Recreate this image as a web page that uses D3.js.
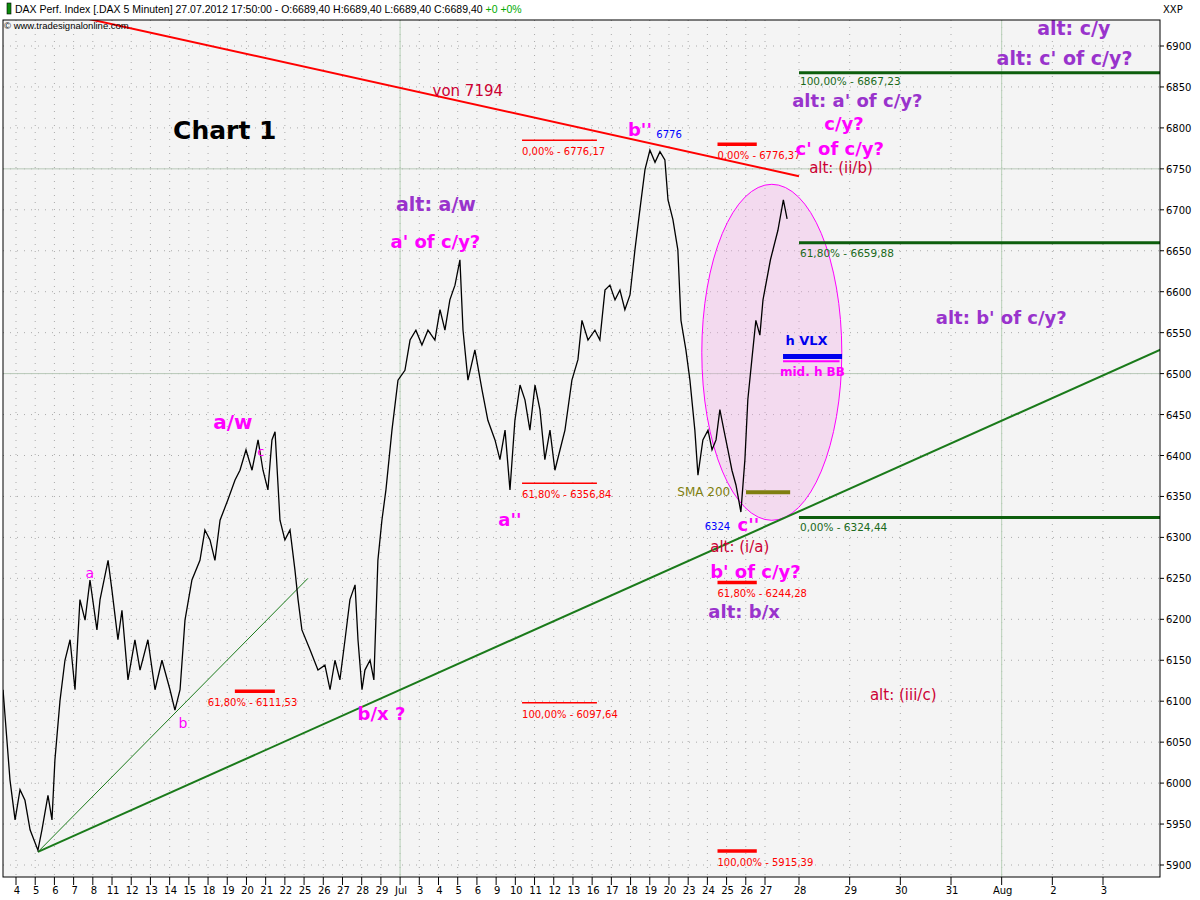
<!DOCTYPE html>
<html><head><meta charset="utf-8">
<script src="https://cdn.jsdelivr.net/npm/d3@7"></script>
<style>body{margin:0;background:#fff}svg{font-family:"DejaVu Sans",sans-serif}</style>
</head><body><svg id="c" width="1200" height="900"></svg>
<script>
const dayLabels = ['4','5','6','7','8','11','12','13','14','15','18','19','20','21','22','25','26','27','28','29','Jul','3','4','5','6','9','10','11','12','13','16','17','18','19','20','23','24','25','26','27','28','29','30','31','Aug','2','3'];
const yTicks = d3.range(5900, 6901, 50);

// price trace [t, value]; t in chart time units (Jun 4 open = 0, Jul 27 = 41, Jul 28 = 42, Aug 3 = 48)
const price = [[-0.71,6114],[-0.33,6004],[-0.05,5955],[0.22,5992],[0.49,5979],[0.77,5943],[1.2,5918],[1.42,5943],[1.75,5985],[1.97,5955],[2.13,6028],[2.41,6101],[2.68,6150],[2.96,6175],[3.23,6114],[3.5,6224],[3.78,6199],[4.05,6248],[4.43,6187],[4.6,6224],[5.04,6272],[5.25,6236],[5.58,6175],[5.8,6211],[6.13,6126],[6.51,6175],[6.79,6138],[7.22,6175],[7.61,6114],[7.99,6150],[8.43,6114],[8.7,6089],[8.98,6114],[9.25,6199],[9.63,6248],[10.07,6272],[10.34,6309],[10.62,6297],[10.89,6272],[11.17,6321],[11.6,6346],[11.99,6370],[12.26,6382],[12.59,6407],[12.92,6382],[13.25,6419],[13.52,6382],[13.79,6358],[14.01,6419],[14.18,6429],[14.45,6321],[14.72,6297],[15,6309],[15.27,6260],[15.44,6224],[15.65,6187],[16.09,6163],[16.53,6138],[16.91,6144],[17.19,6114],[17.46,6150],[17.73,6126],[18.01,6175],[18.28,6224],[18.56,6242],[18.72,6175],[18.94,6114],[19.1,6138],[19.38,6150],[19.59,6126],[19.81,6272],[20.03,6321],[20.25,6358],[20.58,6431],[20.91,6492],[21.29,6504],[21.57,6541],[21.89,6553],[22.22,6535],[22.55,6553],[22.93,6541],[23.21,6578],[23.48,6553],[23.75,6590],[24.03,6608],[24.3,6639],[24.47,6553],[24.74,6492],[25.12,6529],[25.51,6480],[25.83,6443],[26.22,6419],[26.49,6395],[26.77,6431],[27.04,6358],[27.31,6443],[27.59,6486],[27.86,6468],[28.13,6431],[28.41,6486],[28.68,6456],[28.95,6395],[29.23,6431],[29.5,6382],[29.78,6407],[30.05,6431],[30.43,6492],[30.76,6517],[30.98,6565],[31.31,6541],[31.69,6553],[31.96,6541],[32.24,6602],[32.51,6608],[32.79,6590],[33.06,6602],[33.33,6578],[33.61,6596],[33.88,6651],[34.15,6700],[34.43,6749],[34.7,6773],[34.98,6758],[35.25,6771],[35.52,6761],[35.69,6712],[35.96,6688],[36.23,6651],[36.4,6565],[36.67,6529],[36.89,6492],[37.16,6431],[37.33,6376],[37.6,6419],[37.88,6431],[38.1,6407],[38.32,6419],[38.53,6456],[38.75,6431],[38.97,6407],[39.19,6382],[39.41,6364],[39.68,6331],[39.9,6395],[40.06,6468],[40.28,6517],[40.5,6565],[40.72,6547],[40.89,6590],[41.16,6639],[41.38,6675],[41.54,6712],[41.65,6689]];

const trends = [
  {p:[[-1.5,6960],[42,6741]], c:'#ff0000', w:2},
  {p:[[1.2,5916],[49.2,6531]], c:'#1a7a1a', w:2},
  {p:[[1.2,5916],[15.98,6250]], c:'#1a7a1a', w:1}
];
const fibLevels = [{v:6867.23,t:'100,00% - 6867,23',dy:12},{v:6659.88,t:'61,80% - 6659,88',dy:14},{v:6324.44,t:'0,00% - 6324,44',dy:14}];
const redBars = [
  [27.7,31.8,6785,'0,00% - 6776,17',false,0],
  [38.4,40.55,6780,'0,00% - 6776,37',true,0],
  [27.7,31.8,6366,'61,80% - 6356,84',false,0],
  [11.98,14.17,6112,'61,80% - 6111,53',true,-27],
  [27.7,31.8,6098,'100,00% - 6097,64',false,0],
  [38.4,40.55,6245,'61,80% - 6244,28',true,0],
  [38.4,40.55,5917,'100,00% - 5915,39',true,0]
];
const labels = [
  ['Chart 1',8.6,6786,'#000',25,'bold'],
  ['von 7194',22.8,6839,'#cc0033',15,'normal'],
  ['a/w',10.8,6432,'#ff00ff',20,'bold'],
  ['c',13.2,6400,'#ff00ff',13,'normal'],
  ['a',3.8,6250,'#ff00ff',14,'normal'],
  ['b',8.9,6067,'#ff00ff',14,'normal'],
  ['b/x ?',18.7,6077,'#ff00ff',18,'bold'],
  ['a\'\'',26.4,6314,'#ff00ff',18,'bold'],
  ['b\'\'',33.5,6790,'#ff00ff',18,'bold'],
  ['c\'\'',39.5,6308,'#ff00ff',18,'bold'],
  ['alt: a/w',20.8,6699,'#9933cc',19,'bold'],
  ['a\' of c/y?',20.5,6653,'#ff00ff',18,'bold'],
  ['alt: (ii/b)',42.2,6745,'#cc0033',15,'normal'],
  ['alt: (i/a)',38.0,6282,'#cc0033',15,'normal'],
  ['b\' of c/y?',38.0,6250,'#ff00ff',18,'bold'],
  ['alt: b/x',37.9,6202,'#9933cc',18,'bold'],
  ['alt: (iii/c)',43.4,6102,'#cc0033',15,'normal'],
  ['alt: b\' of c/y?',44.7,6560,'#9933cc',18,'bold'],
  ['alt: c/y',46.7,6914,'#9933cc',19,'bold'],
  ['alt: c\' of c/y?',45.9,6877,'#9933cc',19,'bold'],
  ['alt: a\' of c/y?',41.8,6825,'#9933cc',18,'bold'],
  ['c/y?',42.5,6798,'#ff00ff',18,'bold'],
  ['c\' of c/y?',41.9,6767,'#ff00ff',18,'bold'],
  ['6776',35.05,6788,'#0000ff',10,'normal'],
  ['6324',37.7,6309,'#0000ff',10,'normal']
];

const svg = d3.select('#c');
const L = 3, R = 1160, T = 20, B = 877;
const x = d3.scaleLinear().domain([0, 41, 42, 48]).range([16, 765, 799, 1103]);
// axis: label index (trading days, then calendar days)
const xa = d3.scaleLinear().domain([0, 39, 40, 46]).range([16, 765, 799, 1103]);
const labelIdx = d3.range(dayLabels.length);
const y = d3.scaleLinear().domain([5900, 6900]).range([865, 46]);

svg.append('rect').attr('x', L).attr('y', T).attr('width', R - L).attr('height', B - T).attr('fill', '#f4f4f4');
svg.append('clipPath').attr('id', 'pc').append('rect').attr('x', L).attr('y', T).attr('width', R - L).attr('height', B - T);
const g = svg.append('g').attr('clip-path', 'url(#pc)');

g.selectAll('.gh').data(yTicks).join('line').attr('x1', L).attr('x2', R)
  .attr('y1', d => y(d)).attr('y2', d => y(d)).attr('stroke', '#aaa').attr('stroke-dasharray', '1,6');
g.selectAll('.gv').data(labelIdx).join('line').attr('y1', T).attr('y2', B)
  .attr('x1', d => xa(d)).attr('x2', d => xa(d)).attr('stroke', '#aaa').attr('stroke-dasharray', '1,6');
g.selectAll('.gs').data([6750, 6500]).join('line').attr('x1', L).attr('x2', R)
  .attr('y1', d => y(d)).attr('y2', d => y(d)).attr('stroke', '#b8c8b8');
g.selectAll('.gm').data([20, 44]).join('line').attr('y1', T).attr('y2', B)
  .attr('x1', d => xa(d)).attr('x2', d => xa(d)).attr('stroke', '#b8d0b8');

g.append('ellipse').attr('cx', x(41.2)).attr('cy', y(6526)).attr('rx', 70).attr('ry', 168)
  .attr('fill', 'rgba(240,170,230,0.35)').attr('stroke', '#ff00ff').attr('stroke-width', 1);

const line = d3.line().x(d => x(d[0])).y(d => y(d[1]));
g.selectAll('.tr').data(trends).join('path').attr('d', d => line(d.p)).attr('fill', 'none')
  .attr('stroke', d => d.c).attr('stroke-width', d => d.w);

g.selectAll('.fl').data(fibLevels).join('line').attr('x1', x(42)).attr('x2', R)
  .attr('y1', d => y(d.v)).attr('y2', d => y(d.v)).attr('stroke', '#0d5e0d').attr('stroke-width', 3);
g.selectAll('.ft').data(fibLevels).join('text').attr('x', x(42) + 1).attr('y', d => y(d.v) + d.dy)
  .attr('fill', '#1a6a1a').attr('font-size', 10.5).text(d => d.t);

g.selectAll('.rb').data(redBars).join('line').attr('x1', d => x(d[0])).attr('x2', d => x(d[1]))
  .attr('y1', d => y(d[2])).attr('y2', d => y(d[2])).attr('stroke', '#ff0000').attr('stroke-width', d => d[4] ? 3.5 : 1.5);
g.selectAll('.rt').data(redBars).join('text').attr('x', d => x(d[0]) + d[5])
  .attr('y', d => y(d[2]) + 15).attr('fill', '#ff0000').attr('font-size', 10).text(d => d[3]);

g.append('line').attr('x1', x(39.96)).attr('x2', x(41.74)).attr('y1', y(6355)).attr('y2', y(6355))
  .attr('stroke', '#7f7f10').attr('stroke-width', 4);
g.append('text').attr('x', x(36.2)).attr('y', y(6351)).attr('fill', '#7f7f10').attr('font-size', 12).text('SMA 200');
g.append('line').attr('x1', x(41.53)).attr('x2', x(42.85)).attr('y1', y(6521)).attr('y2', y(6521))
  .attr('stroke', '#0000ee').attr('stroke-width', 5);
g.append('line').attr('x1', x(41.53)).attr('x2', x(42.8)).attr('y1', y(6515)).attr('y2', y(6515))
  .attr('stroke', '#ff00ff').attr('stroke-width', 2);
g.append('text').attr('x', x(41.6)).attr('y', y(6535)).attr('fill', '#0000ee').attr('font-size', 13).attr('font-weight', 'bold').text('h VLX');
g.append('text').attr('x', x(41.44)).attr('y', y(6497)).attr('fill', '#ff00ff').attr('font-size', 12).attr('font-weight', 'bold').text('mid. h BB');

g.append('path').attr('d', line(price)).attr('fill', 'none').attr('stroke', '#000').attr('stroke-width', 1.3);

g.selectAll('.lb').data(labels).join('text').attr('x', d => x(d[1])).attr('y', d => y(d[2]))
  .attr('fill', d => d[3]).attr('font-size', d => d[4]).attr('font-weight', d => d[5]).text(d => d[0]);

svg.append('rect').attr('x', L).attr('y', T).attr('width', R - L).attr('height', B - T).attr('fill', 'none').attr('stroke', '#000');

const ya = svg.append('g');
ya.selectAll('line').data(yTicks).join('line').attr('x1', R).attr('x2', R + 4).attr('y1', d => y(d)).attr('y2', d => y(d)).attr('stroke', '#000');
ya.selectAll('text').data(yTicks).join('text').attr('x', R + 6).attr('y', d => y(d) + 4).attr('font-size', 10).text(d => d);
svg.append('text').attr('x', 1163).attr('y', 13).attr('font-size', 10).text('XXP');

const xg = svg.append('g');
xg.selectAll('line').data(labelIdx).join('line').attr('x1', d => xa(d)).attr('x2', d => xa(d)).attr('y1', B).attr('y2', B + 8).attr('stroke', '#000');
xg.selectAll('text').data(labelIdx).join('text').attr('x', d => xa(d) + 1).attr('y', B + 17).attr('text-anchor', 'middle')
  .attr('font-size', 10).text(d => dayLabels[d]);

svg.append('rect').attr('x', 0).attr('y', 0).attr('width', 487).attr('height', 18).attr('fill', '#fff');
svg.append('rect').attr('x', 7).attr('y', 3).attr('width', 4).attr('height', 11).attr('fill', '#0a8a0a').attr('stroke', '#000').attr('stroke-width', 0.6);
const hd = svg.append('text').attr('x', 15).attr('y', 13).attr('font-size', 10.5).attr('font-family', 'Liberation Sans, sans-serif');
hd.append('tspan').text('DAX Perf. Index [.DAX  5 Minuten] 27.07.2012 17:50:00 - O:6689,40 H:6689,40 L:6689,40 C:6689,40 ');
hd.append('tspan').attr('fill', '#00aa00').text('+0 +0%');
svg.append('text').attr('x', 4).attr('y', 29).attr('font-size', 9.5).attr('font-family', 'Liberation Sans, sans-serif').text('© www.tradesignalonline.com');
</script></body></html>
